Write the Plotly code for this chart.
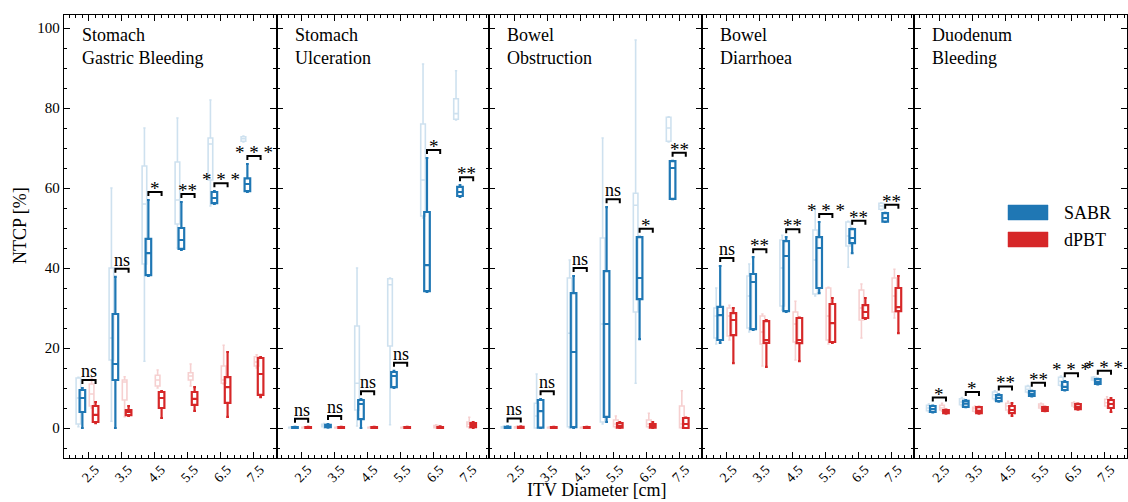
import plotly.graph_objects as go

# ---------------- data ----------------
ITV_DIAMETERS = [2.5, 3.5, 4.5, 5.5, 6.5, 7.5]
TICK_LABELS = ["2.5", "3.5", "4.5", "5.5", "6.5", "7.5"]
PANEL_TITLES = ["Stomach<br>Gastric Bleeding", "Stomach<br>Ulceration", "Bowel<br>Obstruction",
                "Bowel<br>Diarrhoea", "Duodenum<br>Bleeding"]
SERIES_NAMES = ["SABR", "dPBT"]

# each entry: (lower whisker, Q1, median, Q3, upper whisker) per ITV diameter, NTCP in %
gastric_sabr = [(0, 4, 7.5, 9.5, 10), (0, 12, 16, 28.5, 37.8), (38, 38.2, 43.7, 47.3, 57),
                (44.5, 44.8, 47, 50, 56.5), (56, 56.2, 57.5, 59, 59.2), (59, 59.2, 61, 62.4, 66)]
gastric_dpbt = [(1.2, 1.5, 3.3, 5.5, 6.5), (3, 3.2, 4, 4.5, 5.5), (2.5, 5, 7.5, 9, 9.2),
                (4.3, 5.8, 7.3, 9, 10.2), (2.8, 6.3, 10.2, 12.7, 19), (7.7, 8.3, 13.5, 17.5, 17.7)]
gastric_sabr_light = [(0.3, 1, 7.5, 12.5, 12.7), (1.7, 17, 22.5, 40, 60), (16.7, 41, 56, 65.5, 75),
                      (45, 51, 57, 66.5, 77.5), (55.5, 62, 71, 72.5, 82), (71.5, 71.7, 72.3, 72.8, 73)]
gastric_dpbt_light = [(5, 5.5, 8.5, 11, 12.5), (2.8, 7, 11.5, 12, 12.8), (10, 10.5, 12, 13.2, 14.5),
                      (10.5, 12, 13, 13.8, 16), (11, 11.2, 12, 15.5, 20.7), (15, 15.5, 16.5, 17.8, 18.3)]
gastric_sig = ["ns", "ns", "*", "**", "* * *", "* * *"]

ulcer_sabr = [(0, 0, 0.1, 0.2, 0.3), (0.1, 0.2, 0.5, 0.8, 1.0), (0, 2.2, 6, 7, 7.2),
              (10, 10.2, 13, 14, 14.3), (34, 34.2, 40.7, 54, 67.5), (57.8, 58, 59, 60.3, 60.7)]
ulcer_dpbt = [(0, 0, 0.1, 0.2, 0.3), (0, 0, 0.1, 0.2, 0.3), (0, 0, 0.1, 0.2, 0.3),
              (0, 0, 0.1, 0.2, 0.3), (0, 0, 0.1, 0.2, 0.4), (0, 0.2, 0.7, 1.2, 1.5)]
ulcer_sabr_light = [(0, 0, 0.1, 0.2, 0.3), (0.1, 0.3, 0.6, 0.9, 1.1), (0.5, 4.5, 11.2, 25.5, 40),
                    (0.8, 20.5, 35.8, 37.3, 37.5), (52.5, 53, 62, 76, 91), (77, 77.2, 78.6, 82.3, 89.3)]
ulcer_dpbt_light = [(0, 0, 0.1, 0.2, 0.3), (0, 0, 0.1, 0.2, 0.3), (0, 0, 0.1, 0.2, 0.3),
                    (0, 0, 0.1, 0.2, 0.3), (0, 0.1, 0.3, 0.6, 0.8), (0, 0.3, 1, 1.5, 2.7)]
ulcer_sig = ["ns", "ns", "ns", "ns", "*", "**"]

obstr_sabr = [(0, 0, 0.1, 0.3, 0.4), (0, 0.1, 4.2, 7, 7.2), (0, 0.2, 19, 33.7, 38),
              (1.5, 2.8, 26, 39.2, 55.2), (22.2, 32.2, 37.5, 47.7, 47.8), (57.2, 57.3, 65, 66.7, 66.8)]
obstr_dpbt = [(0, 0, 0.1, 0.3, 0.4), (0, 0, 0.1, 0.2, 0.3), (0, 0, 0.1, 0.2, 0.3),
              (0, 0.1, 0.5, 1.2, 1.5), (0, 0.1, 0.5, 1, 1.5), (0, 0, 1, 2.5, 2.6)]
obstr_sabr_light = [(0, 0, 0.1, 0.3, 0.4), (0, 0, 3, 6.2, 13.5), (0, 0.3, 23.7, 37.5, 42),
                    (1, 1.5, 26, 47.5, 72.5), (11.2, 29, 55.7, 58.7, 97), (71.5, 71.7, 75, 77.7, 77.8)]
obstr_dpbt_light = [(0, 0, 0.1, 0.3, 0.4), (0, 0, 0.1, 0.2, 0.3), (0, 0, 0.1, 0.2, 0.3),
                    (0, 0.3, 1, 2, 3), (0, 0.3, 1, 2, 3.7), (0, 0.1, 1, 5.5, 9.3)]
obstr_sig = ["ns", "ns", "ns", "ns", "*", "**"]

diarr_sabr = [(21.3, 22, 28.2, 30.3, 40.5), (24.5, 24.7, 36.5, 38.5, 42.7), (29, 29.2, 43, 46.7, 47.7),
              (33.7, 35, 45, 47.7, 51.5), (43.7, 46.2, 47.5, 49.7, 49.8), (51.5, 51.6, 52.5, 53.7, 53.8)]
diarr_dpbt = [(16.2, 23.2, 27, 28.7, 30), (15.3, 21.3, 22, 26.7, 27), (16.7, 21.2, 22, 27.5, 27.6),
              (21.3, 21.5, 26.2, 31, 32.5), (27.3, 27.5, 29, 30.7, 32.5), (23.7, 29.2, 30.2, 35, 38)]
diarr_sabr_light = [(21, 22.5, 28, 30, 35), (24, 25, 33, 38, 41), (29.5, 30.5, 40, 47, 48.2),
                    (33, 33.5, 42, 49.5, 54.7), (40.2, 45.5, 48, 51.5, 51.7), (54.5, 54.7, 55.5, 56.2, 56.3)]
diarr_dpbt_light = [(22, 23, 28, 30, 30.7), (15.5, 21, 24, 28, 28.5), (17, 21.5, 26, 29, 31.7),
                    (21, 22, 28, 35, 35.2), (22.5, 27, 30, 34.5, 36), (27.5, 29, 33, 37.5, 39.7)]
diarr_sig = ["ns", "**", "**", "* * *", "**", "**"]

duod_sabr = [(3.9, 4, 4.7, 5.5, 5.6), (5.2, 5.3, 6.1, 6.8, 7), (6.6, 6.7, 7.5, 8.2, 8.4),
             (7.9, 8, 8.5, 9.2, 9.3), (9.4, 9.5, 10.3, 11.5, 11.7), (10.9, 11, 11.5, 12.2, 12.3)]
duod_dpbt = [(3.6, 3.7, 4, 4.5, 4.6), (3.6, 3.7, 4.3, 5.2, 5.3), (3, 3.7, 4.5, 5.5, 6.2),
             (4.2, 4.3, 4.7, 5.2, 5.3), (4.6, 4.7, 5.3, 6, 6.1), (4, 5, 6, 7, 7.5)]
duod_sabr_light = [(4, 4.3, 5, 5.7, 6), (5.5, 5.8, 6.5, 7.3, 7.6), (7, 7.3, 8.3, 9, 9.3),
                   (8.8, 9, 9.7, 10.4, 10.6), (10.5, 10.7, 11.7, 12.7, 13), (11.9, 12, 12.4, 12.7, 12.8)]
duod_dpbt_light = [(4.2, 4.5, 5, 5.7, 6.2), (4, 4.2, 4.8, 5.2, 5.5), (4, 4.5, 5.5, 6.2, 6.7),
                   (4.8, 5, 5.5, 6, 6.2), (5.2, 5.5, 6, 6.3, 6.5), (5, 5.5, 6.3, 7.2, 7.8)]
duod_sig = ["*", "*", "**", "**", "* * *", "* * *"]

PANELS = [
    (gastric_sabr, gastric_dpbt, gastric_sabr_light, gastric_dpbt_light, gastric_sig),
    (ulcer_sabr, ulcer_dpbt, ulcer_sabr_light, ulcer_dpbt_light, ulcer_sig),
    (obstr_sabr, obstr_dpbt, obstr_sabr_light, obstr_dpbt_light, obstr_sig),
    (diarr_sabr, diarr_dpbt, diarr_sabr_light, diarr_dpbt_light, diarr_sig),
    (duod_sabr, duod_dpbt, duod_sabr_light, duod_dpbt_light, duod_sig),
]

# ---------------- style ----------------
FONT = "Liberation Serif"
BLUE = "#1f77b4"
RED = "#d62728"
BLUE_LIGHT = "rgba(31,119,180,0.22)"
RED_LIGHT = "rgba(214,39,40,0.22)"
W, H = 1128, 502
ML, MR, MT, MB = 64, 1, 15, 44
PW = W - ML - MR
PH = H - MT - MB
XRANGE = [1.743, 8.185]
YRANGE = [-7.5, 103.25]


def px_x(px):
    return (px - ML) / PW


def px_y(py):
    return (H - MB - py) / PH


fig = go.Figure()
n = len(PANELS)
dom_w = 1.0 / n

for i, (sabr, dpbt, sabr_l, dpbt_l, sig) in enumerate(PANELS):
    suf = "" if i == 0 else str(i + 1)
    xr, yr = "x" + suf, "y" + suf
    specs = [
        (sabr_l, BLUE_LIGHT, -0.32, 0.14, 1.6),
        (dpbt_l, RED_LIGHT, 0.08, 0.14, 1.6),
        (sabr, BLUE, -0.2, 0.17, 2.2),
        (dpbt, RED, 0.2, 0.17, 2.2),
    ]
    for data, color, off, bw, lw in specs:
        lo, q1, med, q3, hi = (list(v) for v in zip(*data))
        fig.add_trace(go.Box(
            x=[d + off for d in ITV_DIAMETERS], lowerfence=lo, q1=q1, median=med, q3=q3, upperfence=hi,
            width=bw, whiskerwidth=0.5, line=dict(color=color, width=lw),
            fillcolor="rgba(0,0,0,0)", boxpoints=False, showlegend=False, hoverinfo="skip",
            xaxis=xr, yaxis=yr,
        ))
    # significance brackets
    bx, by = [], []
    for k, d in enumerate(ITV_DIAMETERS):
        top = max(sabr[k][4], dpbt[k][4]) + 2.0
        bx += [d - 0.2, d - 0.2, d + 0.2, d + 0.2, None]
        by += [top - 1.0, top, top, top - 1.0, None]
        is_star = "*" in sig[k]
        fig.add_annotation(x=d, y=top, xref=xr, yref=yr, text=sig[k], showarrow=False,
                           yanchor="bottom", xanchor="center", yshift=(-9 if is_star else -3),
                           font=dict(family=FONT, size=19 if is_star else 18, color="black"))
    fig.add_trace(go.Scatter(x=bx, y=by, mode="lines", line=dict(color="black", width=2),
                             showlegend=False, hoverinfo="skip", xaxis=xr, yaxis=yr))

    axis_common = dict(showline=True, linecolor="black", linewidth=1.3, mirror="allticks",
                       ticks="inside", tickcolor="black", tickwidth=1, showgrid=False, zeroline=False)
    fig.update_layout(**{
        "xaxis" + suf: dict(domain=[i * dom_w, (i + 1) * dom_w], range=XRANGE, anchor=yr,
                            tickmode="array", tickvals=ITV_DIAMETERS, ticktext=TICK_LABELS,
                            tickangle=-45, ticklen=6, ticklabelshift=6, ticklabelstandoff=-3,
                            tickfont=dict(family=FONT, size=14, color="black"),
                            minor=dict(tick0=2.5, dtick=0.2, ticks="inside", ticklen=3, tickcolor="black",
                                       showgrid=False),
                            **axis_common),
        "yaxis" + suf: dict(domain=[0, 1], range=YRANGE, anchor=xr,
                            tickmode="array", tickvals=[0, 20, 40, 60, 80, 100],
                            showticklabels=(i == 0), ticklen=6,
                            tickfont=dict(family=FONT, size=15, color="black"),
                            minor=dict(tick0=0, dtick=5, ticks="inside", ticklen=3, tickcolor="black",
                                       showgrid=False),
                            **axis_common),
    })
    fig.add_annotation(text=PANEL_TITLES[i], xref=xr + " domain", yref=yr + " domain",
                       x=16 / (PW / n), y=1 - 8 / PH, xanchor="left", yanchor="top", align="left",
                       showarrow=False, font=dict(family=FONT, size=18, color="black"))

# legend (drawn manually to mimic the wide colour patches)
for j, (name, color) in enumerate(zip(SERIES_NAMES, [BLUE, RED])):
    top_px = 205 + j * 27
    fig.add_shape(type="rect", xref="paper", yref="paper",
                  x0=px_x(1008), x1=px_x(1048), y0=px_y(top_px + 15), y1=px_y(top_px),
                  fillcolor=color, line=dict(color=color, width=0.5))
    fig.add_annotation(text=name, xref="paper", yref="paper", x=px_x(1062), y=px_y(top_px + 8),
                       xanchor="left", yanchor="middle", showarrow=False,
                       font=dict(family=FONT, size=18, color="black"))

# axis titles
fig.add_annotation(text="NTCP [%]", xref="paper", yref="paper", x=px_x(20), y=px_y(225),
                   textangle=-90, xanchor="center", yanchor="middle", showarrow=False,
                   font=dict(family=FONT, size=18, color="black"))
fig.add_annotation(text="ITV Diameter [cm]", xref="paper", yref="paper", x=px_x(597), y=px_y(490),
                   xanchor="center", yanchor="middle", showarrow=False,
                   font=dict(family=FONT, size=18, color="black"))

fig.update_layout(width=W, height=H, margin=dict(l=ML, r=MR, t=MT, b=MB),
                  plot_bgcolor="white", paper_bgcolor="white", boxmode="overlay",
                  showlegend=False, font=dict(family=FONT, color="black"))

fig.write_html("out.html")
